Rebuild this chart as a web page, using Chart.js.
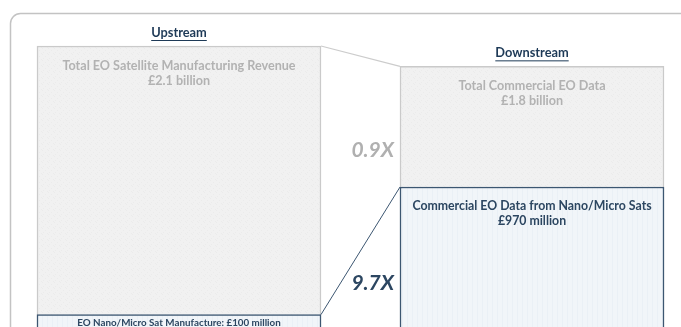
<!DOCTYPE html>
<html>
<head>
<meta charset="utf-8">
<script src="https://cdn.jsdelivr.net/npm/chart.js@4.4.1/dist/chart.umd.min.js"></script>
<style>
  html, body { margin: 0; padding: 0; background: #fff; overflow: hidden; }
  #wrap { width: 681px; height: 328px; position: relative; }
</style>
</head>
<body>
<div id="wrap"><canvas id="flow"></canvas></div>
<script>
// value chain stages, £ billion
const stages = ['Upstream', 'Downstream'];
const totalNames = ['Total EO Satellite Manufacturing Revenue', 'Total Commercial EO Data'];
const totalValues = [2.1, 1.8];
const nanoNames = ['EO Nano/Micro Sat Manufacture', 'Commercial EO Data from Nano/Micro Sats'];
const nanoValues = [0.1, 0.97];

// box widths per stage (px)
const boxWidths = [284, 264];

const FONT = 'Lato, "Open Sans", sans-serif';
const GREY_TEXT = '#b2b2b2';
const NAVY = '#2c4661';

function money(v) {
  if (v >= 1) return '£' + v.toFixed(1) + ' billion';
  return '£' + Math.round(v * 1000) + ' million';
}

// faint paper textures for the boxes
function makePattern(w, h, paint) {
  const tile = document.createElement('canvas');
  tile.width = w; tile.height = h;
  paint(tile.getContext('2d'));
  return tile.getContext('2d').createPattern(tile, 'repeat');
}
const greyFill = makePattern(6, 6, function (t) {
  t.fillStyle = '#f1f1f1'; t.fillRect(0, 0, 6, 6);
  t.fillStyle = '#ebebeb';
  t.fillRect(0, 0, 1, 1); t.fillRect(3, 2, 1, 1); t.fillRect(1, 4, 1, 1); t.fillRect(5, 5, 1, 1);
});
const blueFill = makePattern(5, 4, function (t) {
  t.fillStyle = '#f1f5f9'; t.fillRect(0, 0, 5, 4);
  t.fillStyle = '#eaf0f6'; t.fillRect(2, 0, 1, 4);
});

const axisIds = ['yUp', 'yDown'];
const datasets = [];
stages.forEach(function (s, i) {
  const blank = stages.map(function () { return null; });
  const tot = blank.slice(); tot[i] = totalValues[i];
  const nano = blank.slice(); nano[i] = nanoValues[i];
  datasets.push({
    label: nanoNames[i], data: nano, yAxisID: axisIds[i], order: 0,
    barThickness: boxWidths[i], backgroundColor: blueFill,
    borderColor: '#3c5671', borderWidth: 1.5, clip: false
  });
  datasets.push({
    label: totalNames[i], data: tot, yAxisID: axisIds[i], order: 1,
    barThickness: boxWidths[i], backgroundColor: greyFill,
    borderColor: '#cacaca', borderWidth: 1.5, clip: false
  });
});

function box(chart, label) {
  const idx = chart.data.datasets.findIndex(function (d) { return d.label === label; });
  const meta = chart.getDatasetMeta(idx);
  return meta.data.find(function (el, j) { return chart.data.datasets[idx].data[j] !== null; });
}

const flowPlugin = {
  id: 'flow',
  beforeDraw(chart) {
    const c = chart.ctx;
    c.save();
    c.strokeStyle = '#c3c3c3';
    c.lineWidth = 1.5;
    c.beginPath();
    c.roundRect(10.5, 13.5, 720, 400, 10);
    c.stroke();
    c.restore();
  },
  afterDatasetsDraw(chart) {
    const c = chart.ctx;
    const upT = box(chart, totalNames[0]), dnT = box(chart, totalNames[1]);
    const upN = box(chart, nanoNames[0]), dnN = box(chart, nanoNames[1]);
    c.save();

    // connectors between the stages
    c.lineWidth = 1.2;
    c.strokeStyle = '#cccccc';
    c.beginPath();
    c.moveTo(upT.x + upT.width / 2, upT.y);
    c.lineTo(dnT.x - dnT.width / 2, dnT.y);
    c.stroke();
    c.strokeStyle = '#3c5671';
    c.lineWidth = 1;
    c.beginPath();
    c.moveTo(upN.x + upN.width / 2, upN.y);
    c.lineTo(dnN.x - dnN.width / 2, dnN.y);
    c.stroke();

    c.textAlign = 'center';
    c.textBaseline = 'middle';

    // stage titles, underlined
    [upT, dnT].forEach(function (el, i) {
      const ty = el.y - 13;
      c.font = 'bold 12.8px ' + FONT;
      c.fillStyle = '#1e3a57';
      c.fillText(stages[i], el.x, ty);
      const w = c.measureText(stages[i]).width;
      c.strokeStyle = '#1e3a57';
      c.lineWidth = 1;
      c.beginPath();
      c.moveTo(el.x - w / 2, ty + 7.5);
      c.lineTo(el.x + w / 2, ty + 7.5);
      c.stroke();
    });

    // total box captions
    c.font = 'bold 12.6px ' + FONT;
    c.fillStyle = GREY_TEXT;
    [upT, dnT].forEach(function (el, i) {
      c.fillText(totalNames[i], el.x, el.y + 19.5);
      c.fillText(money(totalValues[i]), el.x, el.y + 34.5);
    });

    // nano/micro captions
    c.fillStyle = NAVY;
    c.font = 'bold 9.8px ' + FONT;
    c.fillText(nanoNames[0] + ': ' + money(nanoValues[0]), upN.x, upN.y + 8);
    c.font = 'bold 12.3px ' + FONT;
    c.fillText(nanoNames[1], dnN.x, dnN.y + 19.5);
    c.fillText(money(nanoValues[1]), dnN.x, dnN.y + 34);

    // multipliers
    c.textAlign = 'right';
    const gapRight = dnT.x - dnT.width / 2 - 6;
    c.font = 'italic bold 21px ' + FONT;
    c.fillStyle = '#b0b0b0';
    c.fillText((totalValues[1] / totalValues[0]).toFixed(1) + 'X', gapRight, dnN.y - 37);
    c.fillStyle = NAVY;
    c.fillText((nanoValues[1] / nanoValues[0]).toFixed(1) + 'X', gapRight, upN.y - 31);
    c.restore();
  }
};

new Chart(document.getElementById('flow'), {
  type: 'bar',
  data: { labels: stages, datasets: datasets },
  options: {
    responsive: true,
    maintainAspectRatio: false,
    animation: false,
    layout: { padding: { left: 179, right: 149, top: 46, bottom: 0 } },
    datasets: { bar: { grouped: false } },
    plugins: { legend: { display: false }, tooltip: { enabled: false } },
    scales: {
      x: { display: false, offset: false },
      yUp: { display: false, min: 0, max: 2.1 },
      yDown: { display: false, min: 0, max: 1.94 }
    }
  },
  plugins: [flowPlugin]
});
</script>
</body>
</html>
